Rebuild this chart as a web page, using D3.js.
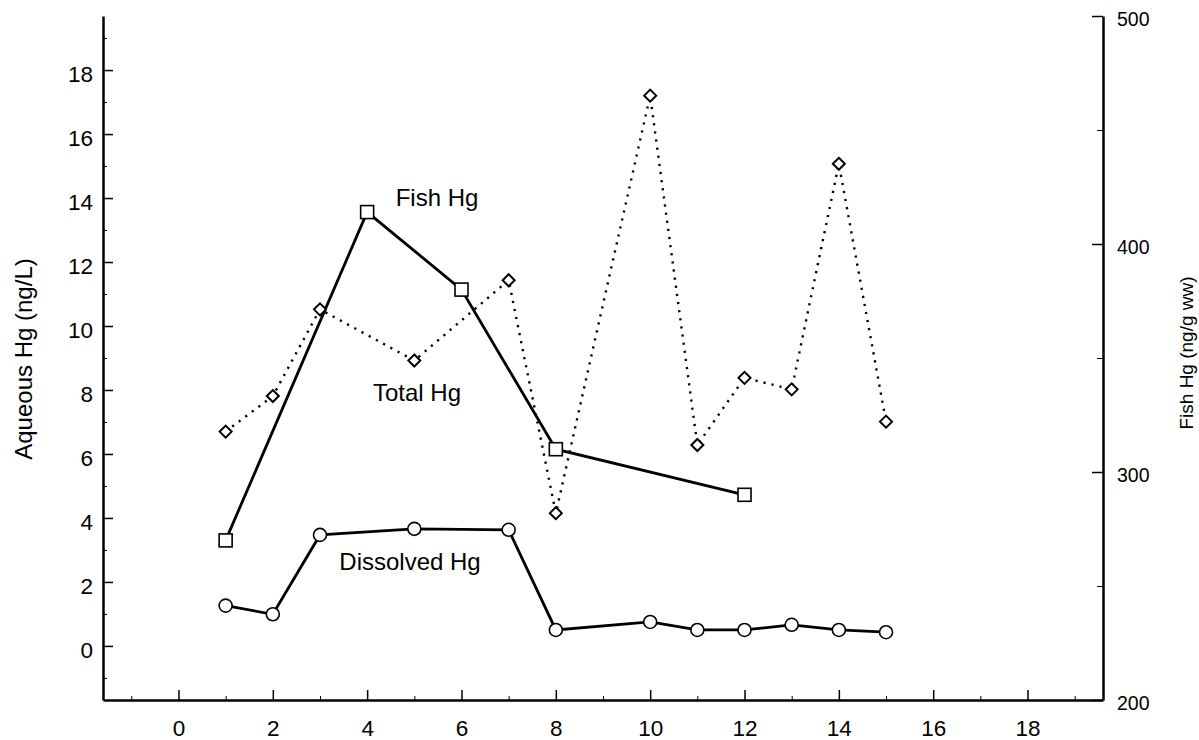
<!DOCTYPE html>
<html>
<head>
<meta charset="utf-8">
<script src="https://cdn.jsdelivr.net/npm/d3@7"></script>
<style>
  body { margin: 0; background: #fff; }
  svg { font-family: "Liberation Sans", Arial, sans-serif; }
  .axis path, .axis line { stroke: #000; }
  .axis text { fill: #000; }
</style>
</head>
<body>
<div id="chart"></div>
<script>
// sampling days shared by total and dissolved aqueous Hg
const days = [1, 2, 3, 5, 7, 8, 10, 11, 12, 13, 14, 15];
const totalHg = [6.70, 7.81, 10.52, 8.92, 11.43, 4.15, 17.2, 6.28, 8.38, 8.02, 15.07, 7.01];
const dissolvedHg = [1.26, 0.99, 3.47, 3.66, 3.63, 0.50, 0.75, 0.50, 0.50, 0.66, 0.50, 0.43];

// fish Hg on the right axis
const fishDays = [1, 4, 6, 8, 12];
const fishHg = [270, 414, 380, 310, 290];

const xTicks = [0, 2, 4, 6, 8, 10, 12, 14, 16, 18];
const xMinor = [-1, 1, 3, 5, 7, 9, 11, 13, 15, 17, 19];
const leftTicks = [0, 2, 4, 6, 8, 10, 12, 14, 16, 18];
const leftMinor = [-1, 1, 3, 5, 7, 9, 11, 13, 15, 17, 19];
const rightTicks = [200, 300, 400, 500];
const rightMinor = [250, 350, 450];

const width = 1199;
const height = 740;
const margin = { top: 16, bottom: 40, left: 103, right: 96 };

const svg = d3.select('#chart')
  .append('svg')
    .attr('width', width)
    .attr('height', height);

const x = d3.scaleLinear()
  .domain([-1.6, 19.6])
  .range([margin.left, width - margin.right]);

const yLeft = d3.scaleLinear()
  .domain([-1.69, 19.69])
  .range([height - margin.bottom, margin.top]);

const yRight = d3.scaleLinear()
  .domain([200, 500])
  .range([height - margin.bottom, margin.top]);

const bottom = height - margin.bottom;
const rightX = width - margin.right;

// minor ticks first, majors with labels on top
svg.append('g')
  .attr('class', 'axis')
  .attr('transform', `translate(0, ${bottom})`)
  .call(d3.axisBottom(x).tickValues(xMinor).tickSizeInner(-4).tickSizeOuter(0).tickFormat(''))
  .call(g => g.select('.domain').remove());

svg.append('g')
  .attr('class', 'axis')
  .attr('transform', `translate(0, ${bottom})`)
  .call(d3.axisBottom(x).tickValues(xTicks).tickSizeInner(-10).tickSizeOuter(0).tickPadding(20))
  .call(g => g.select('.domain').attr('stroke-width', 2.5))
  .call(g => g.selectAll('line').attr('stroke-width', 1.5))
  .call(g => g.selectAll('text').attr('font-size', 22.5));

svg.append('g')
  .attr('class', 'axis')
  .attr('transform', `translate(${margin.left}, 0)`)
  .call(d3.axisLeft(yLeft).tickValues(leftMinor).tickSizeInner(-4).tickSizeOuter(0).tickFormat(''))
  .call(g => g.select('.domain').remove());

svg.append('g')
  .attr('class', 'axis')
  .attr('transform', `translate(${margin.left}, 0)`)
  .call(d3.axisLeft(yLeft).tickValues(leftTicks).tickSizeInner(-10).tickSizeOuter(0).tickPadding(10))
  .call(g => g.select('.domain').attr('stroke-width', 2.5))
  .call(g => g.selectAll('line').attr('stroke-width', 1.5))
  .call(g => g.selectAll('text').attr('font-size', 22.5).attr('dy', '0.5em'));

svg.append('g')
  .attr('class', 'axis')
  .attr('transform', `translate(${rightX}, 0)`)
  .call(d3.axisRight(yRight).tickValues(rightMinor).tickSizeInner(-6).tickSizeOuter(0).tickFormat(''))
  .call(g => g.select('.domain').remove());

svg.append('g')
  .attr('class', 'axis')
  .attr('transform', `translate(${rightX}, 0)`)
  .call(d3.axisRight(yRight).tickValues(rightTicks).tickSizeInner(-11).tickSizeOuter(0).tickPadding(14))
  .call(g => g.select('.domain').attr('stroke-width', 2.5))
  .call(g => g.selectAll('line').attr('stroke-width', 1.5))
  .call(g => g.selectAll('text').attr('font-size', 19.5).attr('dy', '0.5em'));

// axis titles
svg.append('text')
  .attr('transform', `translate(32, 359) rotate(-90)`)
  .attr('text-anchor', 'middle')
  .attr('font-size', 24)
  .text('Aqueous Hg (ng/L)');

svg.append('text')
  .attr('transform', `translate(1193, 353) rotate(-90)`)
  .attr('text-anchor', 'middle')
  .attr('font-size', 19)
  .text('Fish Hg (ng/g ww)');

const totalData = days.map((d, i) => ({ x: d, y: totalHg[i] }));
const dissolvedData = days.map((d, i) => ({ x: d, y: dissolvedHg[i] }));
const fishData = fishDays.map((d, i) => ({ x: d, y: fishHg[i] }));

const lineLeft = d3.line().x(d => x(d.x)).y(d => yLeft(d.y));
const lineRight = d3.line().x(d => x(d.x)).y(d => yRight(d.y));

svg.append('path')
  .datum(totalData)
  .attr('d', lineLeft)
  .attr('fill', 'none')
  .attr('stroke', '#000')
  .attr('stroke-width', 2.4)
  .attr('stroke-dasharray', '2.2 6');

svg.append('path')
  .datum(fishData)
  .attr('d', lineRight)
  .attr('fill', 'none')
  .attr('stroke', '#000')
  .attr('stroke-width', 2.8);

svg.append('path')
  .datum(dissolvedData)
  .attr('d', lineLeft)
  .attr('fill', 'none')
  .attr('stroke', '#000')
  .attr('stroke-width', 2.8);

// markers
svg.selectAll('.diamond')
  .data(totalData)
  .enter()
  .append('path')
    .attr('class', 'diamond')
    .attr('transform', d => `translate(${x(d.x)}, ${yLeft(d.y)})`)
    .attr('d', 'M0,-6L6,0L0,6L-6,0Z')
    .attr('fill', '#fff')
    .attr('stroke', '#000')
    .attr('stroke-width', 2);

svg.selectAll('.square')
  .data(fishData)
  .enter()
  .append('rect')
    .attr('class', 'square')
    .attr('x', d => x(d.x) - 6.5)
    .attr('y', d => yRight(d.y) - 6.5)
    .attr('width', 13)
    .attr('height', 13)
    .attr('fill', '#fff')
    .attr('stroke', '#000')
    .attr('stroke-width', 1.6);

svg.selectAll('.circle')
  .data(dissolvedData)
  .enter()
  .append('circle')
    .attr('class', 'circle')
    .attr('cx', d => x(d.x))
    .attr('cy', d => yLeft(d.y))
    .attr('r', 6.5)
    .attr('fill', '#fff')
    .attr('stroke', '#000')
    .attr('stroke-width', 1.6);

// series labels
const labels = [
  { text: 'Fish Hg', x: 437, y: 198 },
  { text: 'Total Hg', x: 417, y: 393 },
  { text: 'Dissolved Hg', x: 410, y: 562 }
];

svg.selectAll('.series-label')
  .data(labels)
  .enter()
  .append('text')
    .attr('class', 'series-label')
    .attr('x', d => d.x)
    .attr('y', d => d.y)
    .attr('dy', '0.35em')
    .attr('text-anchor', 'middle')
    .attr('font-size', 24)
    .text(d => d.text);
</script>
</body>
</html>
